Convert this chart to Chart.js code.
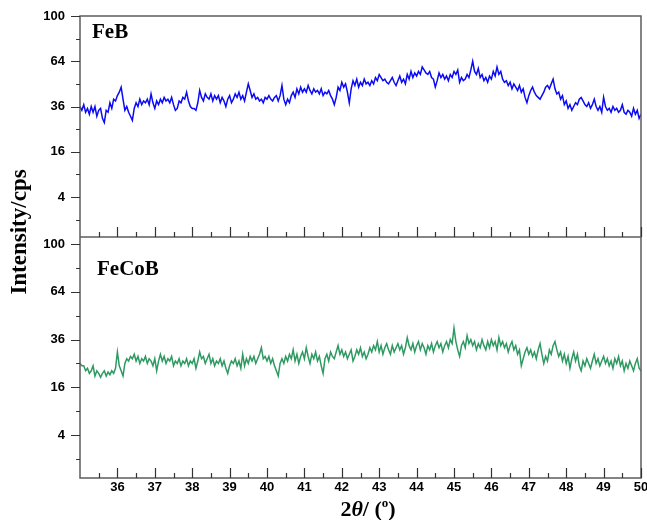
<!DOCTYPE html>
<html>
<head>
<meta charset="utf-8">
<title>XRD FeB / FeCoB</title>
<script src="https://cdn.jsdelivr.net/npm/chart.js@4.4.1/dist/chart.umd.min.js"></script>
<style>
  html, body { margin: 0; padding: 0; background: #fff; }
</style>
</head>
<body>
<canvas id="xrdChart" width="647" height="520"></canvas>
<script>
// 2-theta grid, 0.05 deg steps from 35 to 50
const twoTheta = Array.from({ length: 301 }, (_, i) => +(35 + i * 0.05).toFixed(2));

// counts per second, one row per degree
const feB = [
  36, 34, 37, 33, 35, 32, 36, 33, 36, 31, 34, 35, 30, 28, 34, 33, 38, 35, 40, 39,
  42, 44, 47, 40, 34, 36, 33, 31, 29, 35, 38, 36, 40, 37, 39, 38, 40, 37, 43, 38,
  35, 39, 37, 40, 38, 41, 39, 40, 38, 41, 37, 34, 35, 39, 38, 41, 40, 44, 39, 36,
  35, 35, 34, 38, 45, 41, 39, 43, 41, 40, 43, 39, 42, 40, 42, 38, 41, 39, 36, 40,
  42, 38, 40, 43, 41, 44, 40, 42, 39, 44, 49, 45, 41, 43, 40, 41, 39, 40, 38, 41,
  40, 42, 40, 39, 41, 42, 39, 42, 48, 40, 37, 40, 38, 42, 44, 41, 46, 43, 47, 44,
  46, 44, 48, 45, 43, 46, 44, 45, 43, 46, 42, 44, 43, 45, 42, 40, 37, 41, 47, 45,
  50, 47, 49, 44, 38, 46, 51, 48, 52, 47, 50, 48, 52, 49, 50, 48, 51, 49, 53, 51,
  55, 53, 51, 52, 50, 49, 51, 53, 50, 48, 51, 54, 50, 52, 49, 55, 52, 57, 53, 56,
  54, 57, 55, 60, 58, 56, 55, 57, 53, 52, 47, 51, 56, 53, 55, 52, 54, 51, 55, 53,
  57, 55, 58, 50, 53, 51, 52, 55, 53, 58, 64, 57, 55, 59, 53, 55, 51, 53, 50, 54,
  52, 57, 54, 60, 55, 57, 52, 50, 51, 48, 50, 46, 49, 47, 45, 48, 44, 46, 41, 38,
  42, 45, 47, 44, 42, 41, 40, 42, 44, 47, 48, 46, 49, 52, 46, 43, 44, 40, 42, 37,
  39, 35, 37, 34, 36, 38, 37, 40, 41, 39, 37, 36, 38, 35, 37, 40, 36, 34, 36, 33,
  41, 36, 34, 35, 33, 36, 34, 35, 33, 34, 37, 33, 32, 34, 33, 31, 35, 32, 34, 30,
  32
];

const feCoB = [
  25, 24, 24, 22, 23, 21, 22, 24, 20, 22, 21, 19.5, 21, 22, 20, 21.5, 20.5, 22, 21, 23,
  30, 24, 22, 20, 25, 27, 26, 28, 27, 29, 26, 28, 25, 27, 26, 28, 25, 27, 26, 24,
  27, 22, 26, 29, 26, 28, 25, 27, 26, 28, 24, 26, 25, 27, 24, 26, 25, 27, 24, 26,
  25, 27, 23, 26, 30, 27, 28, 25, 27, 29, 25, 27, 24, 26, 25, 27, 24, 26, 23, 21,
  24, 26, 25, 27, 24, 26, 23, 29, 24, 27, 25, 28, 26, 28, 25, 27, 29, 32, 27, 28,
  26, 28, 25, 27, 24, 22, 20, 25, 27, 25, 28, 26, 29, 27, 31, 26, 29, 25, 28, 30,
  27, 32, 28, 25, 29, 27, 30, 26, 28, 24, 21, 27, 29, 26, 30, 28, 27, 30, 33, 29,
  31, 28, 30, 27, 29, 31, 26, 28, 31, 29, 32, 28, 30, 27, 29, 32, 30, 33, 31, 35,
  30, 33, 29, 32, 34, 31, 29, 33, 30, 32, 34, 31, 33, 29, 32, 37, 33, 31, 34, 30,
  33, 35, 31, 34, 32, 29, 33, 31, 34, 30, 33, 35, 32, 34, 30, 33, 35, 32, 36, 34,
  42, 35, 31, 28, 33, 35, 32, 38, 34, 36, 33, 35, 31, 34, 32, 36, 33, 31, 35, 32,
  36, 33, 35, 31, 37, 33, 35, 32, 34, 30, 33, 35, 31, 33, 29, 31, 24, 27, 30, 32,
  29, 31, 28, 30, 27, 31, 34, 29, 25, 28, 26, 31, 29, 33, 35, 31, 28, 30, 26, 29,
  25, 28, 23, 27, 30, 26, 29, 24, 22, 26, 24, 27, 25, 23, 26, 29, 25, 27, 24, 26,
  28, 25, 27, 24, 26, 23, 27, 25, 28, 24, 26, 22, 25, 23, 26, 24, 22, 25, 27, 23,
  22
];

const sampleNames = ["FeB", "FeCoB"];
const yTicks = [4, 16, 36, 64, 100];
const yMinorTicks = [1, 9, 25, 49, 81];
const xTicks = [36, 37, 38, 39, 40, 41, 42, 43, 44, 45, 46, 47, 48, 49, 50];
const xMinorTicks = [35.5, 36.5, 37.5, 38.5, 39.5, 40.5, 41.5, 42.5, 43.5, 44.5, 45.5, 46.5, 47.5, 48.5, 49.5];

// square-root intensity axis
class SqrtScale extends Chart.LinearScale {
    getPixelForValue(value) {
        const lo = Math.sqrt(this.min), hi = Math.sqrt(this.max);
        return this.getPixelForDecimal((Math.sqrt(value) - lo) / (hi - lo));
    }
    getValueForPixel(pixel) {
        const lo = Math.sqrt(this.min), hi = Math.sqrt(this.max);
        const s = lo + this.getDecimalForPixel(pixel) * (hi - lo);
        return s * s;
    }
}
SqrtScale.id = "sqrt";
SqrtScale.defaults = Chart.LinearScale.defaults;
Chart.register(SqrtScale);

const tickFont = { family: "'Liberation Sans', Arial, sans-serif", size: 13, weight: "bold" };
const serif = "'Liberation Serif', 'Times New Roman', serif";

function yAxis(min, max, weight) {
    return {
        type: "sqrt",
        position: "left",
        stack: "panels",
        stackWeight: weight,
        min: min,
        max: max,
        grid: { display: false, drawTicks: false },
        border: { display: false },
        ticks: { font: tickFont, color: "#000", padding: 15 },
        afterBuildTicks: s => { s.ticks = yTicks.map(v => ({ value: v })); },
        afterFit: s => { s.width = 80; s.paddingTop = 0; s.paddingBottom = 0; }
    };
}

// frame, inner/outer tick marks, panel names and axis titles
const framePlugin = {
    id: "frame",
    afterDatasetsDraw(chart) {
        const { ctx, chartArea: a, scales } = chart;
        const top = scales.yTop, bot = scales.yBot, x = scales.x;
        ctx.save();
        ctx.strokeStyle = "#5c5c5c";
        ctx.lineWidth = 1.5;
        ctx.strokeRect(a.left, a.top, a.right - a.left, a.bottom - a.top);
        ctx.beginPath();
        ctx.moveTo(a.left, top.bottom);
        ctx.lineTo(a.right, top.bottom);
        ctx.stroke();

        ctx.strokeStyle = "#333";
        ctx.lineWidth = 1.2;
        ctx.beginPath();
        [top, bot].forEach(s => {
            yTicks.forEach(v => {
                const py = Math.round(s.getPixelForValue(v)) + 0.5;
                ctx.moveTo(a.left - 9, py);
                ctx.lineTo(a.left, py);
            });
            yMinorTicks.forEach(v => {
                const py = Math.round(s.getPixelForValue(v)) + 0.5;
                ctx.moveTo(a.left - 4, py);
                ctx.lineTo(a.left, py);
            });
            xTicks.forEach(v => {
                const px = Math.round(x.getPixelForValue(v)) + 0.5;
                ctx.moveTo(px, s.bottom);
                ctx.lineTo(px, s.bottom - 10);
            });
            xMinorTicks.forEach(v => {
                const px = Math.round(x.getPixelForValue(v)) + 0.5;
                ctx.moveTo(px, s.bottom);
                ctx.lineTo(px, s.bottom - 5);
            });
        });
        ctx.stroke();

        ctx.fillStyle = "#000";
        ctx.font = "bold 21px " + serif;
        ctx.textAlign = "left";
        ctx.textBaseline = "alphabetic";
        ctx.fillText(sampleNames[0], a.left + 12, top.top + 22);
        ctx.fillText(sampleNames[1], a.left + 17, bot.top + 38);

        // y title
        ctx.save();
        ctx.translate(26, 232);
        ctx.rotate(-Math.PI / 2);
        ctx.font = "bold 23px " + serif;
        ctx.textAlign = "center";
        ctx.textBaseline = "alphabetic";
        ctx.fillText("Intensity/cps", 0, 0);
        ctx.restore();

        // x title: 2θ/ (°)
        const parts = [
            { t: "2", f: "bold 22px " + serif, dy: 0 },
            { t: "θ", f: "italic bold 22px " + serif, dy: 0 },
            { t: "/ (", f: "bold 22px " + serif, dy: 0 },
            { t: "o", f: "bold 13px " + serif, dy: -9 },
            { t: ")", f: "bold 22px " + serif, dy: 0 }
        ];
        let w = 0;
        parts.forEach(p => { ctx.font = p.f; p.w = ctx.measureText(p.t).width; w += p.w; });
        let px = 368 - w / 2;
        ctx.textAlign = "left";
        parts.forEach(p => {
            ctx.font = p.f;
            ctx.fillText(p.t, px, 516 + p.dy);
            px += p.w;
        });
        ctx.restore();
    }
};

const ctx = document.getElementById("xrdChart").getContext("2d");
new Chart(ctx, {
    type: "line",
    data: {
        datasets: [
            {
                label: sampleNames[1],
                data: twoTheta.map((t, i) => ({ x: t, y: feCoB[i] })),
                yAxisID: "yBot",
                borderColor: "#2e9a62",
                borderWidth: 1.5,
                pointRadius: 0,
                tension: 0
            },
            {
                label: sampleNames[0],
                data: twoTheta.map((t, i) => ({ x: t, y: feB[i] })),
                yAxisID: "yTop",
                borderColor: "#0a0af5",
                borderWidth: 1.5,
                pointRadius: 0,
                tension: 0
            }
        ]
    },
    options: {
        responsive: false,
        animation: false,
        layout: { padding: { top: 16, right: 6, left: 0, bottom: 0 } },
        plugins: { legend: { display: false }, tooltip: { enabled: false } },
        scales: {
            x: {
                type: "linear",
                position: "bottom",
                min: 35,
                max: 50,
                grid: { display: false, drawTicks: false },
                border: { display: false },
                ticks: { font: tickFont, color: "#000", padding: 2, maxRotation: 0, autoSkip: false },
                afterBuildTicks: s => { s.ticks = xTicks.map(v => ({ value: v })); },
                afterFit: s => { s.height = 42; s.paddingLeft = 0; s.paddingRight = 0; }
            },
            yBot: yAxis(0.04, 106, 241),
            yTop: yAxis(0.054, 100, 221)
        }
    },
    plugins: [framePlugin]
});
</script>
</body>
</html>
